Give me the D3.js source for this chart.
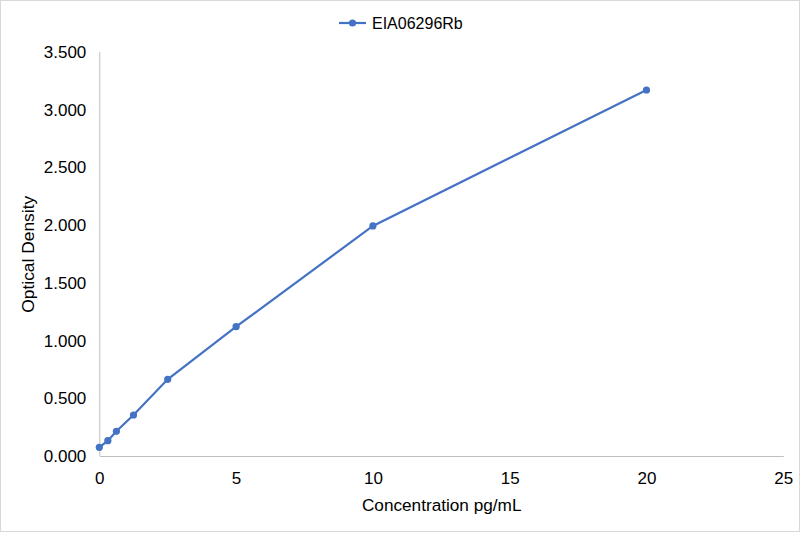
<!DOCTYPE html>
<html>
<head>
<meta charset="utf-8">
<script src="https://cdn.jsdelivr.net/npm/d3@7"></script>
<style>
  body { margin: 0; background: #fff; }
  text { font-family: "Liberation Sans", Arial, sans-serif; fill: #000; }
  .axis path, .axis line { stroke: #bfbfbf; }
</style>
</head>
<body>
<div id="chart"></div>
<script>
const seriesName = "EIA06296Rb";
const concentrations = [0, 0.3125, 0.625, 1.25, 2.5, 5, 10, 20];
const densities = [0.075, 0.133, 0.214, 0.355, 0.664, 1.120, 1.993, 3.171];
const xTicks = [0, 5, 10, 15, 20, 25];
const yTicks = [0, 0.5, 1, 1.5, 2, 2.5, 3, 3.5];

const W = 801, H = 533;
const margin = { top: 52, right: 17.7, bottom: 77, left: 99.3 },
      width = W - margin.left - margin.right,
      height = H - margin.top - margin.bottom;
const color = "#4472C4";

const svg = d3.select("#chart")
    .append("svg")
    .attr("width", W)
    .attr("height", H);

svg.append("rect")
    .attr("x", 0.5).attr("y", 0.5)
    .attr("width", W - 2).attr("height", H - 2)
    .attr("fill", "#fff")
    .attr("stroke", "#d9d9d9");

const g = svg.append("g")
    .attr("transform", `translate(${margin.left},${margin.top})`);

const x = d3.scaleLinear().domain([0, 25]).range([0, width]);
const y = d3.scaleLinear().domain([0, 3.5]).range([height, 0]);

const xAxis = g.append("g")
    .attr("class", "axis")
    .attr("transform", `translate(0,${height})`)
    .call(d3.axisBottom(x).tickValues(xTicks).tickSize(0).tickPadding(16).tickFormat(d3.format("d")));
xAxis.selectAll("text").style("font-size", "17px");

const yAxis = g.append("g")
    .attr("class", "axis")
    .call(d3.axisLeft(y).tickValues(yTicks).tickSize(0).tickPadding(13).tickFormat(d3.format(".3f")));
yAxis.selectAll("text").style("font-size", "17px");
yAxis.select(".domain").attr("d", `M0.5,0V${height}`);

const line = d3.line()
    .x((d, i) => x(concentrations[i]))
    .y(d => y(d));

g.append("path")
    .datum(densities)
    .attr("d", line)
    .attr("fill", "none")
    .attr("stroke", color)
    .attr("stroke-width", 2.2);

g.selectAll("circle.pt")
    .data(densities)
    .enter()
    .append("circle")
    .attr("class", "pt")
    .attr("cx", (d, i) => x(concentrations[i]))
    .attr("cy", d => y(d))
    .attr("r", 3.6)
    .attr("fill", color);

// legend
const legend = svg.append("g").attr("transform", "translate(339,23)");
legend.append("line")
    .attr("x1", 0).attr("x2", 27)
    .attr("stroke", color).attr("stroke-width", 2.2);
legend.append("circle")
    .attr("cx", 13.5).attr("r", 3.6).attr("fill", color);
legend.append("text")
    .attr("x", 33).attr("dy", "0.35em")
    .style("font-size", "16px")
    .text(seriesName);

svg.append("text")
    .attr("x", 441.7)
    .attr("y", 511)
    .attr("text-anchor", "middle")
    .style("font-size", "17.2px")
    .text("Concentration pg/mL");

svg.append("text")
    .attr("transform", `translate(33.5,254.3) rotate(-90)`)
    .attr("text-anchor", "middle")
    .style("font-size", "17.4px")
    .text("Optical Density");
</script>
</body>
</html>
